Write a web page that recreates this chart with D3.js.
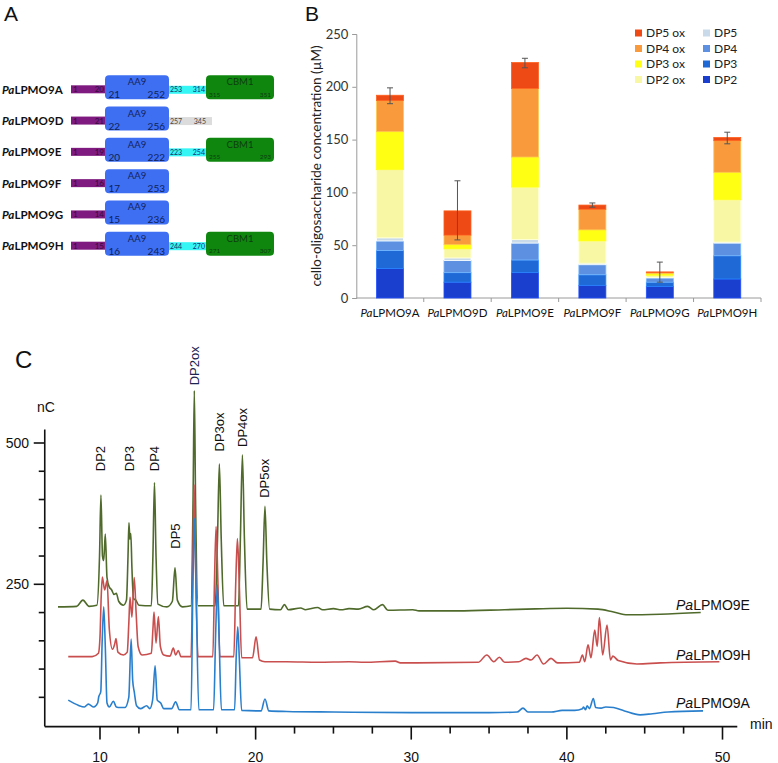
<!DOCTYPE html>
<html><head><meta charset="utf-8">
<script src="https://cdn.jsdelivr.net/npm/d3@7"></script>
<style>body{margin:0;background:#fff}svg{display:block}</style>
</head><body>
<svg id="fig" width="778" height="763"></svg>
<script>
// ---------- Panel A data ----------
const genes = ["PaLPMO9A","PaLPMO9D","PaLPMO9E","PaLPMO9F","PaLPMO9G","PaLPMO9H"];
const signalEnd = [20,21,19,16,14,15];
const aa9Start = [21,22,20,17,15,16];
const aa9End = [252,256,222,253,236,243];
const linkerStart = [253,257,223,null,null,244];
const linkerEnd = [314,345,254,null,null,270];
const linkerType = ["cyan","grey","cyan",null,null,"cyan"];
const cbmStart = [315,null,255,null,null,271];
const cbmEnd = [351,null,293,null,null,307];

// ---------- Panel B data ----------
const categories = ["PaLPMO9A","PaLPMO9D","PaLPMO9E","PaLPMO9F","PaLPMO9G","PaLPMO9H"];
const seriesKeys = ["DP2","DP3","DP4","DP5","DP2 ox","DP3 ox","DP4 ox","DP5 ox"];
const dp2   = [28, 15, 24, 12, 11, 18];
const dp3   = [17, 9, 12, 10, 4, 22];
const dp4   = [9, 11.5, 16, 9.5, 4, 12];
const dp5   = [3, 2.5, 3.5, 1.5, 0.5, 1];
const dp2ox = [64.5, 8.5, 49.5, 21, 2, 40];
const dp3ox = [36, 4, 28.5, 10.5, 1.5, 26];
const dp4ox = [29.5, 9, 65, 19.5, 1.2, 30];
const dp5ox = [5, 23, 24.5, 4, 0.5, 3];
const errLow  = [184, 55, 218, 86, 15, 146];
const errHigh = [199, 111, 227, 90, 34, 157];
const yTicksB = [0, 50, 100, 150, 200, 250];
const seriesColors = ["#1a3ecd","#1f69d6","#5d90e0","#c9dbea","#f8f8a4","#ffff14","#f99b3d","#ee4a16"];

// ---------- Panel C data (retention time min, signal nC) ----------
const traceE = [[7.3,210],[8.5,211],[8.9,222],[9.3,211],[9.8,213],[9.97,300],[10.06,408],[10.16,300],[10.24,292],[10.34,339],[10.45,262],[10.6,245],[10.75,240],[10.9,232],[11.05,234],[11.2,220],[11.5,213],[11.7,222],[11.8,300],[11.86,359],[11.92,330],[11.98,340],[12.05,280],[12.15,225],[12.3,222],[12.5,213],[13.3,212],[13.4,300],[13.5,430],[13.6,300],[13.72,215],[14.3,210],[14.65,220],[14.82,279],[14.97,222],[15.3,210],[15.85,212],[15.98,400],[16.06,593],[16.14,400],[16.3,212],[17.4,212],[17.55,330],[17.67,463],[17.79,330],[17.95,212],[18.9,212],[19.02,330],[19.15,479],[19.28,330],[19.45,206],[20.35,206],[20.48,290],[20.6,388],[20.72,290],[20.9,206],[21.6,205],[21.85,214],[22.1,205],[22.9,208],[23.2,205],[23.98,209],[24.3,205],[25.0,207],[25.5,205],[26.0,207],[26.6,206],[27.2,211],[27.6,205],[28.15,214],[28.5,204],[30.1,205],[30.5,203],[33,203],[36,205],[38,206.5],[40,207.5],[42,206],[43,201],[43.9,196],[46,197],[48.6,200]];
const traceH = [[7.96,122],[9.5,122],[9.9,128],[10.0,157],[10.08,230],[10.15,263],[10.3,240],[10.45,256],[10.6,170],[10.8,135],[10.95,145],[11.03,154],[11.15,130],[11.5,125],[11.75,130],[11.85,180],[11.93,227],[12.05,192],[12.2,262],[12.32,200],[12.45,140],[12.7,125],[13.3,128],[13.4,170],[13.47,201],[13.6,146],[13.75,193],[13.88,140],[14.1,125],[14.5,123],[14.71,137],[14.86,125],[15.03,133],[15.2,122],[15.85,122],[15.97,300],[16.05,426],[16.13,300],[16.3,122],[17.25,122],[17.36,260],[17.46,352],[17.57,260],[17.7,122],[18.6,122],[18.72,250],[18.83,331],[18.95,250],[19.1,120],[19.8,120],[20.03,157],[20.25,116],[20.6,113],[22,113],[24,112],[26,113],[27,112],[28.97,114],[29.3,111],[34.3,112],[34.86,125],[35.3,113],[35.66,121],[36.0,112],[36.9,113],[37.37,119],[37.7,116],[38.08,125],[38.5,109],[38.98,119],[39.4,111],[40.8,112],[41.0,125],[41.15,113],[41.36,143],[41.55,120],[41.79,169],[41.95,140],[42.09,191],[42.3,125],[42.58,178],[42.8,116],[42.96,123],[43.3,115],[44.5,109],[46,111],[49.8,113]];
const traceA = [[7.96,45],[8.6,36],[9.0,33],[9.25,38],[9.6,33],[9.85,40],[9.92,51],[10.05,60],[10.14,150],[10.24,210],[10.34,140],[10.45,40],[10.6,33],[10.86,43],[11.05,33],[11.29,32],[11.6,32],[11.85,50],[12.0,153],[12.1,80],[12.2,60],[12.35,35],[12.6,30],[13.0,35],[13.2,30],[13.38,45],[13.54,106],[13.68,45],[13.9,40],[14.1,30],[14.6,30],[14.86,42],[15.1,28],[15.85,28],[15.97,250],[16.07,367],[16.17,250],[16.35,28],[17.3,28],[17.43,160],[17.54,249],[17.65,160],[17.8,28],[18.65,28],[18.75,120],[18.85,175],[18.95,120],[19.1,27],[20.35,26],[20.6,47],[20.85,26],[22,25],[25,24],[30,23],[35,23],[36.8,24],[37.18,31],[37.5,24],[39,24],[39.7,27],[40.5,27],[41.0,30],[41.07,33],[41.2,28],[41.3,35],[41.45,30],[41.7,48],[41.85,32],[42.2,31],[42.5,33],[43.0,32],[43.7,26],[44.7,19],[45.5,21],[46.5,24],[48.75,26]];
const traceNames = ["PaLPMO9E","PaLPMO9H","PaLPMO9A"];
const traceColors = ["#4f6a2b","#c94f4f","#2a7fcc"];
const traceLabelY = [205, 116, 32];
const peakLabels = ["DP2","DP3","DP4","DP5","DP2ox","DP3ox","DP4ox","DP5ox"];
const peakTimes = [10.06, 11.9, 13.5, 14.82, 16.06, 17.67, 19.15, 20.6];
const peakLabelBase = [450, 450, 450, 313, 602, 485, 493, 403];
const cMajorTicks = [10, 20, 30, 40, 50];
const cMinorTicks = [12.5,15,17.5,22.5,25,27.5,32.5,35,37.5,42.5,45,47.5];
const cYTicks = [50,100,150,200,250,300,350,400,450,500];
const cYLabels = [250, 500];

const svg = d3.select("#fig");
const panelFont = "'Liberation Sans', Arial, sans-serif";
const bFont = "Lato, 'Open Sans', sans-serif";

// panel letters
[["A",4,21],["B",305,21],["C",15,368]].forEach(([t,x,y]) =>
  svg.append("text").attr("x",x).attr("y",y).text(t)
    .attr("font-family",panelFont).attr("font-size", t==="C"?24:21).attr("fill","#111"));

// ================= Panel A =================
const gA = svg.append("g");
const yA = d3.scalePoint().domain(genes).range([89.3, 245.7]);
// schematic slot positions (x)
const slotX = d3.scaleOrdinal().domain(["sig0","sig1","aa0","aa1","lk1","lkD","cb1"])
  .range([71, 107, 105, 169, 206, 212, 274]);
genes.forEach((g, i) => {
  const yc = yA(g);
  const lbl = gA.append("text").attr("x", 2).attr("y", yc + 4.5)
    .attr("font-family", bFont).attr("font-weight", "bold").attr("font-size", 11.6).attr("fill","#111");
  lbl.append("tspan").attr("font-style","italic").text(g.slice(0,2));
  lbl.append("tspan").text(g.slice(2));
  // signal peptide
  gA.append("rect").attr("x", slotX("sig0")).attr("y", yc-4).attr("width", slotX("sig1")-slotX("sig0")).attr("height", 8)
    .attr("fill", "#7e1a80");
  gA.append("text").attr("x", slotX("sig0")+2).attr("y", yc+3).text(1)
    .attr("font-family",bFont).attr("font-size",8).attr("fill","#3a0a3a");
  gA.append("text").attr("x", slotX("sig1")-3).attr("y", yc+3).attr("text-anchor","end").text(signalEnd[i])
    .attr("font-family",bFont).attr("font-size",8).attr("fill","#3a0a3a");
  // linker
  if (linkerStart[i] !== null) {
    const x1 = linkerType[i]==="grey" ? slotX("lkD") : slotX("lk1");
    gA.append("rect").attr("x", slotX("aa1")).attr("y", yc-3.5).attr("width", x1-slotX("aa1")).attr("height", 8)
      .attr("fill", linkerType[i]==="grey" ? "#dcdcdc" : "#35f5f5");
    gA.append("text").attr("x", slotX("aa1")+1).attr("y", yc+3).text(linkerStart[i])
      .attr("font-family",bFont).attr("font-size",7).attr("fill", linkerType[i]==="grey"?"#444":"#183070");
    gA.append("text").attr("x", x1 - (linkerType[i]==="grey"?6:1)).attr("y", yc+3).attr("text-anchor","end").text(linkerEnd[i])
      .attr("font-family",bFont).attr("font-size",7).attr("fill", linkerType[i]==="grey"?"#444":"#183070");
  }
  // AA9
  gA.append("rect").attr("x", slotX("aa0")).attr("y", yc-14).attr("width", slotX("aa1")-slotX("aa0")).attr("height", 24)
    .attr("rx",4).attr("fill","#3e6ff3");
  gA.append("text").attr("x", (slotX("aa0")+slotX("aa1"))/2).attr("y", yc-4).attr("text-anchor","middle").text("AA9")
    .attr("font-family",bFont).attr("font-size",9.5).attr("fill","#14245e");
  gA.append("text").attr("x", slotX("aa0")+3.5).attr("y", yc+9).text(aa9Start[i])
    .attr("font-family",bFont).attr("font-size",10).attr("fill","#0f1f58");
  gA.append("text").attr("x", slotX("aa1")-4).attr("y", yc+9).attr("text-anchor","end").text(aa9End[i])
    .attr("font-family",bFont).attr("font-size",10).attr("fill","#0f1f58");
  // CBM1
  if (cbmStart[i] !== null) {
    gA.append("rect").attr("x", slotX("lk1")).attr("y", yc-14).attr("width", slotX("cb1")-slotX("lk1")).attr("height", 24)
      .attr("rx",4).attr("fill","#0f870f");
    gA.append("text").attr("x", (slotX("lk1")+slotX("cb1"))/2).attr("y", yc-4).attr("text-anchor","middle").text("CBM1")
      .attr("font-family",bFont).attr("font-size",9.5).attr("fill","#0d3d10");
    gA.append("text").attr("x", slotX("lk1")+3).attr("y", yc+7.5).text(cbmStart[i])
      .attr("font-family",bFont).attr("font-size",6.5).attr("fill","#0d3d10");
    gA.append("text").attr("x", slotX("cb1")-3).attr("y", yc+7.5).attr("text-anchor","end").text(cbmEnd[i])
      .attr("font-family",bFont).attr("font-size",6.5).attr("fill","#0d3d10");
  }
});

// ================= Panel B =================
const gB = svg.append("g");
const xB = d3.scaleBand().domain(categories).range([356.3, 761]).paddingInner(0.6).paddingOuter(0.3);
const yB = d3.scaleLinear().domain([0, 250]).range([298, 34]);
const rows = categories.map((c, i) => ({cat: c, "DP2": dp2[i], "DP3": dp3[i], "DP4": dp4[i], "DP5": dp5[i],
  "DP2 ox": dp2ox[i], "DP3 ox": dp3ox[i], "DP4 ox": dp4ox[i], "DP5 ox": dp5ox[i]}));
const color = d3.scaleOrdinal().domain(seriesKeys).range(seriesColors);
const stacked = d3.stack().keys(seriesKeys)(rows);

const yAxB = gB.append("g").attr("transform","translate(356.3,0)")
  .call(d3.axisLeft(yB).tickValues(yTicksB).tickSize(4).tickPadding(4));
yAxB.select(".domain").attr("stroke","#9a9a9a");
yAxB.selectAll(".tick line").attr("stroke","#9a9a9a");
yAxB.selectAll(".tick text").attr("font-family",bFont).attr("font-size",13).attr("fill","#333");

// x axis
const xAxB = gB.append("g").attr("transform","translate(0,298)");
xAxB.append("line").attr("x1", 356.3).attr("x2", 761).attr("stroke","#9a9a9a");
const bounds = categories.map(c => xB(c) - xB.step()*xB.paddingInner()/2).concat([761]);
xAxB.selectAll("line.tk").data(bounds.slice(1)).join("line").attr("class","tk")
  .attr("x1", d=>d).attr("x2", d=>d).attr("y1",0).attr("y2",4).attr("stroke","#9a9a9a");
categories.forEach(c => {
  const t = xAxB.append("text").attr("x", xB(c)+xB.bandwidth()/2).attr("y", 19).attr("text-anchor","middle")
    .attr("font-family",bFont).attr("font-size",11.5).attr("fill","#111");
  t.append("tspan").attr("font-style","italic").text(c.slice(0,2));
  t.append("tspan").text(c.slice(2));
});

gB.selectAll("g.series").data(stacked).join("g").attr("class","series")
  .attr("fill", d => color(d.key))
  .selectAll("rect").data(d => d.map(v => ({v, key: d.key}))).join("rect")
  .attr("x", d => xB(d.v.data.cat)).attr("width", xB.bandwidth())
  .attr("y", d => yB(d.v[1])).attr("height", d => Math.max(0, yB(d.v[0]) - yB(d.v[1])))
  .attr("stroke", d => d3.color(color(d.key)).brighter(0.7).formatHex()).attr("stroke-width", 0.8);

// error bars
categories.forEach((c, i) => {
  const cx = xB(c) + xB.bandwidth()/2;
  const g = gB.append("g").attr("stroke","#555").attr("stroke-width",1);
  g.append("line").attr("x1",cx).attr("x2",cx).attr("y1",yB(errLow[i])).attr("y2",yB(errHigh[i]));
  g.append("line").attr("x1",cx-3).attr("x2",cx+3).attr("y1",yB(errLow[i])).attr("y2",yB(errLow[i]));
  g.append("line").attr("x1",cx-3).attr("x2",cx+3).attr("y1",yB(errHigh[i])).attr("y2",yB(errHigh[i]));
});

// y-axis title
gB.append("text").attr("transform","translate(321,166) rotate(-90)").attr("text-anchor","middle")
  .attr("font-family",bFont).attr("font-size",13.5).attr("fill","#222")
  .text("cello-oligosaccharide concentration (\u00b5M)");

// legend
const legendLeft = ["DP5 ox","DP4 ox","DP3 ox","DP2 ox"];
const legendRight = ["DP5","DP4","DP3","DP2"];
[[legendLeft, 635], [legendRight, 703]].forEach(([keys, lx]) => {
  keys.forEach((k, j) => {
    const ly = 33 + j*15.5;
    gB.append("rect").attr("x", lx).attr("y", ly-3.5).attr("width",7).attr("height",7).attr("fill", color(k));
    gB.append("text").attr("x", lx+11).attr("y", ly+4).text(k)
      .attr("font-family",bFont).attr("font-size",12).attr("fill","#222");
  });
});

// ================= Panel C =================
const gC = svg.append("g");
const xC = d3.scaleLinear().domain([10, 50]).range([100, 722.5]);
const yC = d3.scaleLinear().domain([0, 500]).range([725.6, 443]);
const cAxisTop = 524, cAxisStart = 6.45, cAxisEnd = 50.95;

const traces = [traceE, traceH, traceA];
const line = d3.line().x(d => xC(d[0])).y(d => yC(d[1])).curve(d3.curveMonotoneX);
traces.forEach((tr, i) => {
  gC.append("path").datum(tr).attr("d", line).attr("fill","none")
    .attr("stroke", traceColors[i]).attr("stroke-width", 1.6).attr("stroke-linejoin","round");
});

// trace labels
traceNames.forEach((n, i) => {
  const t = gC.append("text").attr("x", 676).attr("y", yC(traceLabelY[i]))
    .attr("font-family",panelFont).attr("font-size",14).attr("fill","#111");
  t.append("tspan").attr("font-style","italic").text(n.slice(0,2));
  t.append("tspan").text(n.slice(2));
});

// peak labels
peakLabels.forEach((p, i) => {
  gC.append("text").attr("transform", `translate(${xC(peakTimes[i])+4.5},${yC(peakLabelBase[i])}) rotate(-90)`)
    .text(p).attr("font-family",panelFont).attr("font-size",13).attr("fill", p==="DP2ox" ? "#1d2552" : "#111");
});

// axes
const axC = gC.append("g").attr("stroke","#111").attr("stroke-width",1.6);
axC.append("line").attr("x1", xC(cAxisStart)).attr("x2", xC(cAxisStart)).attr("y1", yC(0)+1).attr("y2", yC(cAxisTop));
axC.append("line").attr("x1", xC(cAxisStart)).attr("x2", xC(cAxisEnd)).attr("y1", yC(0)+1).attr("y2", yC(0)+1);
cYTicks.forEach(v => {
  const len = cYLabels.includes(v) ? 11 : 6;
  axC.append("line").attr("x1", xC(cAxisStart)-len).attr("x2", xC(cAxisStart)).attr("y1", yC(v)).attr("y2", yC(v));
});
cMajorTicks.forEach(v => axC.append("line").attr("x1", xC(v)).attr("x2", xC(v)).attr("y1", yC(0)+1).attr("y2", yC(0)+14));
cMinorTicks.forEach(v => axC.append("line").attr("x1", xC(v)).attr("x2", xC(v)).attr("y1", yC(0)+1).attr("y2", yC(0)+8));
cYLabels.forEach(v => gC.append("text").attr("x", 29).attr("y", yC(v)+5).attr("text-anchor","end").text(v)
  .attr("font-family",panelFont).attr("font-size",14).attr("fill","#111"));
cMajorTicks.forEach(v => gC.append("text").attr("x", xC(v)).attr("y", 761.5).attr("text-anchor","middle").text(v)
  .attr("font-family",panelFont).attr("font-size",14).attr("fill","#111"));
gC.append("text").attr("x", 37).attr("y", 412).text("nC").attr("font-family",panelFont).attr("font-size",14).attr("fill","#111");
gC.append("text").attr("x", 750).attr("y", 729).text("min").attr("font-family",panelFont).attr("font-size",14).attr("fill","#111");
</script>
</body></html>
